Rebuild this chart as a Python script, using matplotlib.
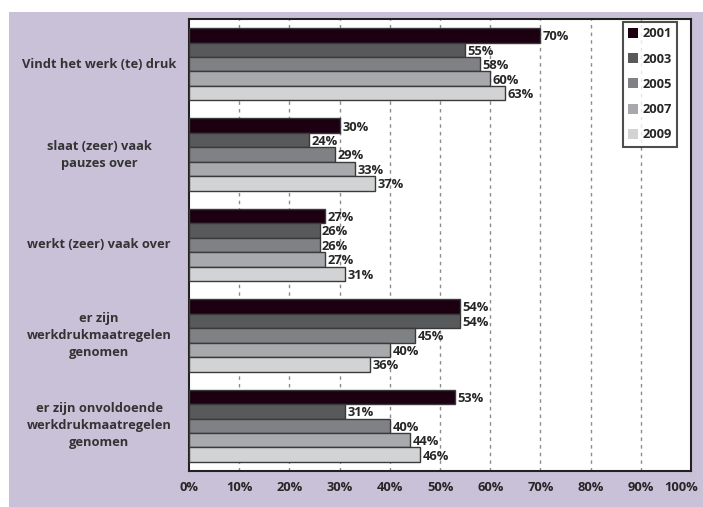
import matplotlib
matplotlib.use("Agg")
import matplotlib.pyplot as plt
from matplotlib.patches import Rectangle, Patch
import matplotlib.transforms as mtrans
import numpy as np

categories = [
    "Vindt het werk (te) druk",
    "slaat (zeer) vaak\npauzes over",
    "werkt (zeer) vaak over",
    "er zijn\nwerkdrukmaatregelen\ngenomen",
    "er zijn onvoldoende\nwerkdrukmaatregelen\ngenomen",
]
years = ["2001", "2003", "2005", "2007", "2009"]
v2001 = [70, 30, 27, 54, 53]
v2003 = [55, 24, 26, 54, 31]
v2005 = [58, 29, 26, 45, 40]
v2007 = [60, 33, 27, 40, 44]
v2009 = [63, 37, 31, 36, 46]
series = [v2001, v2003, v2005, v2007, v2009]
colors = ["#1c0012", "#58595b", "#808184", "#a7a9ac", "#d1d3d4"]
xticks = [0, 10, 20, 30, 40, 50, 60, 70, 80, 90, 100]
xticklabels = [f"{t}%" for t in xticks]

plt.rcParams['font.family'] = ['Open Sans', 'DejaVu Sans']
txtc = "#262626"
fs = 9.3

fig = plt.figure(figsize=(7.03, 5.07), dpi=100, facecolor="white")
bg = Rectangle((9/703, 0), 1 - 9/703, 1 - 12/507, transform=fig.transFigure,
               facecolor="#c9c1d8", edgecolor="none", zorder=-10)
fig.patches.append(bg)

ax = fig.add_axes([189/703, 1 - 471/507, 502/703, 452/507])
ax.set_facecolor("white")

bh = 0.16
for j, (vals, c) in enumerate(zip(series, colors)):
    y = np.arange(len(categories)) + (j - 2) * bh
    ax.barh(y, vals, height=bh, color=c, edgecolor="#3a3a3a", linewidth=1.0, zorder=3)
    for yy, v in zip(y, vals):
        ax.text(v + 0.5, yy + 0.015, f"{v}%", ha="left", va="center", fontsize=fs,
                fontweight="bold", color=txtc, zorder=4)

ax.set_xlim(0, 100)
ax.set_ylim(4.5, -0.5)
ax.set_xticks(xticks)
ax.set_xticklabels(xticklabels, fontsize=fs, fontweight="bold", color=txtc)
ax.set_yticks([])
ax.tick_params(axis="x", length=0, pad=7)
last = ax.get_xticklabels()[-1]
last.set_transform(last.get_transform() + mtrans.ScaledTranslation(-10/100, 0, fig.dpi_scale_trans))
for t in xticks[1:-1]:
    ax.axvline(t, color="#8c8c8c", linestyle=(0, (2.5, 3)), linewidth=1.0, zorder=1)
for s in ax.spines.values():
    s.set_color("#222222")
    s.set_linewidth(1.5)

for i, cat in enumerate(categories):
    ax.text(-0.179, i, cat, transform=ax.get_yaxis_transform(), ha="center", va="center",
            multialignment="center", fontsize=fs, fontweight="bold", color="#333333",
            linespacing=1.4)

handles = [Patch(facecolor=c, edgecolor="none") for c in colors]
leg = ax.legend(handles, years, loc="upper left", bbox_to_anchor=(0.864, 0.993),
                frameon=True, fancybox=False, handlelength=0.8, handleheight=0.8,
                labelspacing=0.95, handletextpad=0.3, borderpad=0.4, borderaxespad=0,
                prop={"weight": "bold", "size": fs})
leg.get_frame().set_edgecolor("#222222")
leg.get_frame().set_linewidth(1.5)
for t in leg.get_texts():
    t.set_color(txtc)

fig.savefig("out.png", dpi=100, facecolor=fig.get_facecolor())
